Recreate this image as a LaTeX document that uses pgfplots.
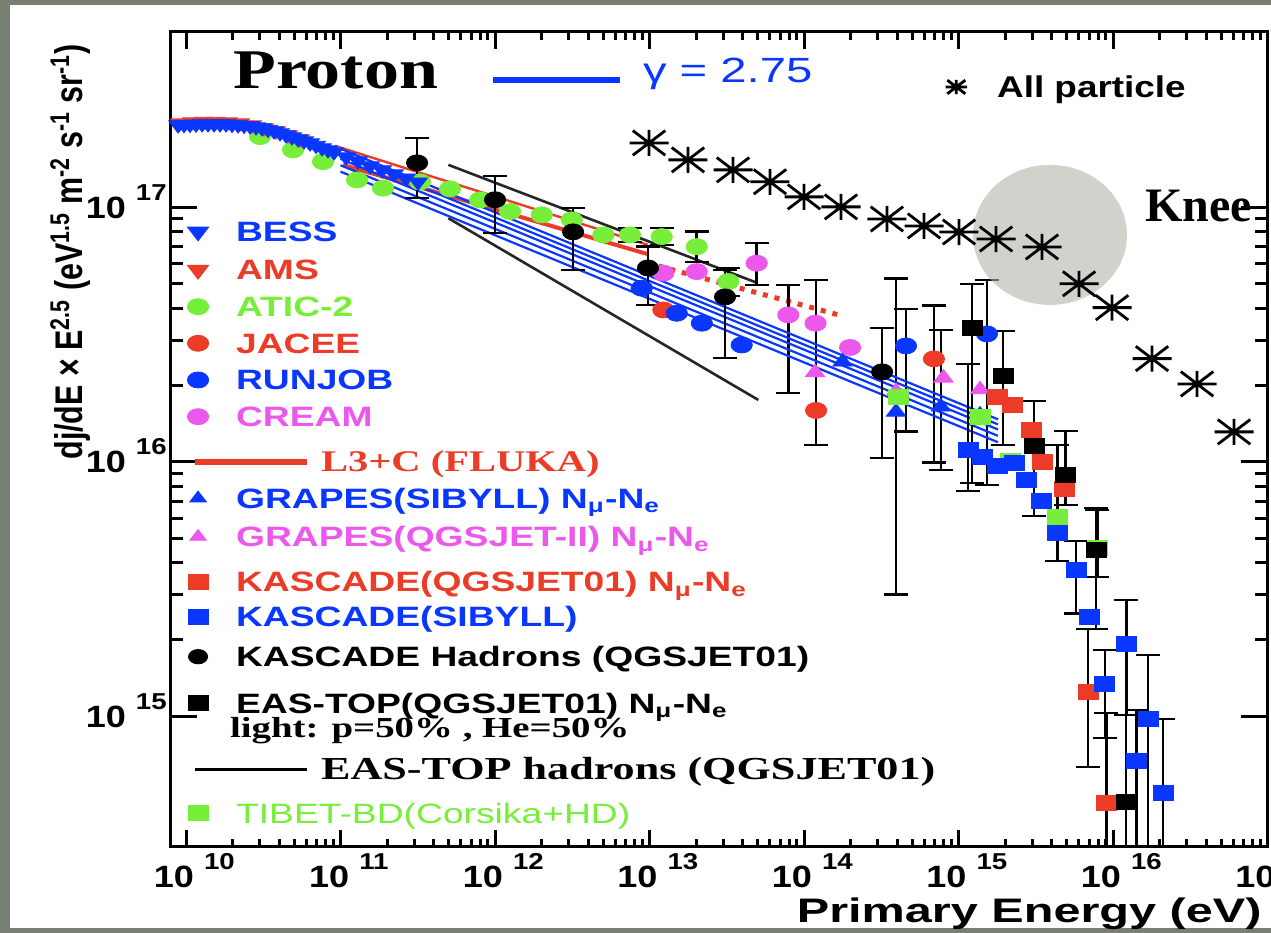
\documentclass[border=0pt]{standalone}
\usepackage{pgfplots}
\pgfplotsset{compat=1.18}
\usepackage{fontspec}
\setmainfont{Liberation Serif}
\setsansfont{Liberation Sans}
\usepackage{graphicx}

\definecolor{cblue}{RGB}{10,55,255}
\definecolor{cred}{RGB}{236,60,40}
\definecolor{cgreen}{RGB}{118,238,58}
\definecolor{cmag}{RGB}{236,88,236}
\definecolor{bggray}{RGB}{122,127,116}
\definecolor{kneegray}{RGB}{176,183,170}

\pgfdeclareplotmark{astar}{%
  \pgfpathmoveto{\pgfqpoint{-1.5\pgfplotmarksize}{0pt}}\pgfpathlineto{\pgfqpoint{1.5\pgfplotmarksize}{0pt}}%
  \pgfpathmoveto{\pgfqpoint{0pt}{-\pgfplotmarksize}}\pgfpathlineto{\pgfqpoint{0pt}{\pgfplotmarksize}}%
  \pgfpathmoveto{\pgfqpoint{-1.25\pgfplotmarksize}{-0.95\pgfplotmarksize}}\pgfpathlineto{\pgfqpoint{1.25\pgfplotmarksize}{0.95\pgfplotmarksize}}%
  \pgfpathmoveto{\pgfqpoint{-1.25\pgfplotmarksize}{0.95\pgfplotmarksize}}\pgfpathlineto{\pgfqpoint{1.25\pgfplotmarksize}{-0.95\pgfplotmarksize}}%
  \pgfusepathqstroke}

\newcommand{\tkl}[1]{\scalebox{1.17}[1]{\fontsize{15.4}{16}\selectfont\sffamily\bfseries 10}\hspace{5pt}\raisebox{9pt}{\scalebox{1.2}[1]{\fontsize{11.5}{12}\selectfont\sffamily\bfseries #1}}}
\newcommand{\lt}[2]{\raisebox{0pt}[11pt][#1]{#2}}
\newcommand{\ls}[2]{\textcolor{#1}{\scalebox{1.33}[1]{\fontsize{14}{16}\selectfont\sffamily\bfseries #2}}}
\newcommand{\lr}[2]{\textcolor{#1}{\scalebox{1.35}[1]{\fontsize{15}{17}\selectfont\rmfamily\bfseries #2}}}
\newcommand{\nmne}{N\textsubscript{μ}-N\textsubscript{e}}

\pgfplotsset{
  mleg/.style={legend image code/.code={\path[draw=none,fill=none] (0pt,-#1) -- (0pt,11pt); \draw[##1] plot coordinates {(0pt,5pt)};}},
  lleg/.style={legend image code/.code={\path[draw=none,fill=none] (0pt,-#1) -- (0pt,11pt); \draw[##1,overlay] (-1.5pt,5pt) -- (54.5pt,5pt);}},
  gleg/.style={legend image code/.code={\draw[##1] (0pt,1.5pt) -- (63.5pt,1.5pt);}},
  sleg/.style={legend image code/.code={\draw[##1] plot coordinates {(0pt,5.5pt)};}},
  ebar/.style={error bars/.cd, y dir=both, y explicit,
     error bar style={line width=1.25pt, black},
     error mark options={black, line width=1.25pt, mark size=6pt, rotate=90}},
  mk/.style={only marks, color=#1, mark options={draw=none, fill=#1, xscale=1.33}},
  down/.style={/tikz/every mark/.append style={rotate=180}},
}

\begin{document}
\begin{tikzpicture}[x=1pt,y=1pt]
\useasboundingbox (0,0) rectangle (635.5,466.5);
\fill[bggray] (0,0) rectangle (635.5,466.5);
\fill[white] (5,2.5) rectangle (635.5,464);

\begin{axis}[
  at={(85pt,43.15pt)}, anchor=south west,
  scale only axis, width=548.75pt, height=407.5pt,
  xmode=log, ymode=log,
  xmin=7.877e9, xmax=1e17, ymin=3.066e14, ymax=4.898e17,
  xtick={1e10,1e11,1e12,1e13,1e14,1e15,1e16,1e17},
  xticklabels={\tkl{10},\tkl{11},\tkl{12},\tkl{13},\tkl{14},\tkl{15},\tkl{16},\tkl{17}},
  ytick={1e15,1e16,1e17},
  yticklabels={\tkl{15},\tkl{16},\tkl{17}},
  axis line style={line width=1.5pt},
  tick style={black, line width=1.5pt},
  major tick length=8.5pt, minor tick length=4pt,
  ytick style={/pgfplots/major tick length=13.5pt,/pgfplots/minor tick length=6.5pt},
  xticklabel style={anchor=north, inner sep=0pt, xshift=4.15pt, yshift=-3.15pt},
  yticklabel style={anchor=base east, inner sep=0pt, xshift=-1.5pt, yshift=-5.5pt},
  xlabel={\scalebox{1.43}[1]{\fontsize{17}{19}\selectfont\sffamily\bfseries Primary Energy (eV)}},
  xlabel style={at={(axis description cs:0.995,-0.0936)}, anchor=base east, inner sep=0pt},
  ylabel={\scalebox{1.05}[1.33]{\fontsize{14.5}{16}\selectfont\sffamily\bfseries dj/dE × E\textsuperscript{2.5} (eV\textsuperscript{1.5} m\textsuperscript{-2} s\textsuperscript{-1} sr\textsuperscript{-1})}},
  ylabel style={at={(axis description cs:-0.0793,0.4745)}, anchor=base west, inner sep=0pt},
  legend style={at={(axis description cs:0.01585,0.7693)}, anchor=north west, draw=none, fill=none,
    inner sep=0pt, outer sep=0pt, row sep=0pt, column sep=13.7pt, cells={anchor=base west}, nodes={inner sep=0pt}},
]

% EAS-TOP hadrons band
\addplot[forget plot, black!85, line width=1.3pt] coordinates {(4.99e11,1.467e17) (4.94e13,5.05e16)};
\addplot[forget plot, black!85, line width=1.3pt] coordinates {(4.99e11,9.05e16) (5.06e13,1.748e16)};

% L3+C (FLUKA)
\addplot[forget plot, cred, line width=1.2pt] coordinates {(9.213e10,1.742e17) (9.78e12,7.11e16)};
\addplot[forget plot, cred, line width=2pt] coordinates {(1.038e11,1.467e17) (9.634e12,6.55e16)};
\addplot[forget plot, cred, line width=2.5pt, dash pattern=on 2.5pt off 3.5pt] coordinates {(9.64e12,6.04e16) (1.788e14,3.732e16)};

% ATIC-2
\addplot[forget plot, mk=cgreen, mark=*, mark size=4pt] table {
3.013e10 1.895e17
4.928e10 1.680e17
7.703e10 1.511e17
1.279e11 1.280e17
1.884e11 1.1877e17
3.270e11 1.2567e17
5.113e11 1.1802e17
7.998e11 1.0683e17
1.2506e12 9.61e16
2.006e12 9.327e16
3.137e12 8.915e16
5.023e12 7.784e16
};
\addplot[forget plot, mk=cgreen, mark=*, mark size=4pt, ebar] table[y error plus index=2, y error minus index=3] {
7.477e12 7.784e16 4.86e15 4.74e15
1.1994e13 7.665e16 6.05e15 5.55e15
2.021e13 7.0e16 1.02e16 9.0e15
3.236e13 5.102e16 6.68e15 6.22e15
};
% AMS
\addplot[forget plot, mk=cred, mark=triangle*, mark size=4.1pt, down] table {
9.147e9 2.145e17
1.0935e10 2.164e17
1.3078e10 2.174e17
1.5639e10 2.174e17
1.8702e10 2.164e17
2.2364e10 2.145e17
2.6745e10 2.107e17
3.198e10 2.050e17
3.824e10 1.995e17
4.573e10 1.924e17
5.469e10 1.855e17
};
% BESS
\addplot[forget plot, mk=cblue, mark=triangle*, mark size=4.1pt, down] table {
8.88e9 2.107e17
9.70e9 2.112e17
1.061e10 2.116e17
1.160e10 2.121e17
1.270e10 2.126e17
1.388e10 2.126e17
1.518e10 2.126e17
1.660e10 2.126e17
1.815e10 2.126e17
1.985e10 2.116e17
2.171e10 2.107e17
2.374e10 2.098e17
2.596e10 2.088e17
2.839e10 2.069e17
3.104e10 2.050e17
3.394e10 2.022e17
3.712e10 1.995e17
4.059e10 1.960e17
4.439e10 1.924e17
4.854e10 1.889e17
5.307e10 1.855e17
5.803e10 1.822e17
6.346e10 1.789e17
6.940e10 1.750e17
7.590e10 1.711e17
8.300e10 1.680e17
9.077e10 1.650e17
1.0854e11 1.577e17
1.298e11 1.521e17
1.552e11 1.454e17
1.856e11 1.402e17
2.220e11 1.352e17
2.655e11 1.302e17
3.175e11 1.256e17
};
% JACEE
\addplot[forget plot, mk=cred, mark=*, mark size=4pt] table {
1.228e13 3.947e16
};
\addplot[forget plot, mk=cred, mark=*, mark size=4pt, ebar] table[y error plus index=2, y error minus index=3] {
1.197e14 1.589e16 3.591e16 4.26e15
6.93e14 2.534e16 1.576e16 1.541e16
};
% RUNJOB
\addplot[forget plot, mk=cblue, mark=*, mark size=4pt] table {
8.90e12 4.805e16
1.50e13 3.83e16
2.18e13 3.50e16
3.95e13 2.875e16
};
\addplot[forget plot, mk=cblue, mark=*, mark size=4pt, ebar] table[y error plus index=2, y error minus index=3] {
4.57e14 2.85e16 1.13e16 1.539e16
1.528e15 3.177e16 2.003e16 2.367e16
};
% CREAM
\addplot[forget plot, mk=cmag, mark=*, mark size=4pt] table {
1.228e13 5.505e16
2.02e13 5.585e16
1.187e14 3.50e16
1.986e14 2.81e16
};
\addplot[forget plot, mk=cmag, mark=*, mark size=4pt, ebar] table[y error plus index=2, y error minus index=3] {
4.94e13 6.026e16 1.214e16 1.076e16
7.91e13 3.773e16 1.177e16 1.91e16
};
% GRAPES (SIBYLL)
\addplot[forget plot, mk=cblue, mark=triangle*, mark size=4.2pt] table {
1.775e14 2.466e16
1.378e15 1.526e16
};
\addplot[forget plot, mk=cblue, mark=triangle*, mark size=4.2pt, ebar] table[y error plus index=2, y error minus index=3] {
3.941e14 1.568e16 3.672e16 1.267e16
7.70e14 1.641e16 1.653e16 7.13e15
};
% GRAPES (QGSJET-II)
\addplot[forget plot, mk=cmag, mark=triangle*, mark size=4.2pt] table {
1.178e14 2.242e16
3.941e14 1.887e16
7.99e14 2.133e16
1.378e15 1.919e16
};

% gamma = 2.75 lines
\addplot[forget plot, cblue, line width=1.1pt] coordinates {(1e11,1.698e17) (1.8e15,1.4666e16)};
\addplot[forget plot, cblue, line width=1.1pt] coordinates {(1e11,1.622e17) (1.8e15,1.4005e16)};
\addplot[forget plot, cblue, line width=1.1pt] coordinates {(1e11,1.549e17) (1.8e15,1.3375e16)};
\addplot[forget plot, cblue, line width=1.1pt] coordinates {(1e11,1.462e17) (1.8e15,1.2626e16)};
\addplot[forget plot, cblue, line width=1.1pt] coordinates {(1e11,1.380e17) (1.8e15,1.1918e16)};

% TIBET-BD
\addplot[forget plot, mk=cgreen, mark=square*, mark size=3.75pt] table {
4.108e14 1.791e16
1.385e15 1.505e16
2.166e15 1.011e16
};
\addplot[forget plot, mk=cgreen, mark=square*, mark size=3.75pt, ebar] table[y error plus index=2, y error minus index=3] {
4.362e15 6.06e15 5.57e15 1.99e15
7.92e15 4.56e15 1.9e15 1.04e15
};
% KASCADE (QGSJET01)
\addplot[forget plot, mk=cred, mark=square*, mark size=3.75pt] table {
1.788e15 1.791e16
2.24e15 1.671e16
2.946e15 1.332e16
3.508e15 9.94e15
4.855e15 7.80e15
};
\addplot[forget plot, mk=cred, mark=square*, mark size=3.75pt, ebar] table[y error plus index=2, y error minus index=3] {
6.89e15 1.241e15 9.59e14 6.10e14
9.05e15 4.55e14 5.71e14 2.55e14
};
% KASCADE (SIBYLL)
\addplot[forget plot, mk=cblue, mark=square*, mark size=3.75pt] table {
1.430e15 1.046e16
1.788e15 9.60e15
2.297e15 9.84e15
2.735e15 8.50e15
3.420e15 7.03e15
4.391e15 5.24e15
7.056e15 2.443e15
};
\addplot[forget plot, mk=cblue, mark=square*, mark size=3.75pt, ebar] table[y error plus index=2, y error minus index=3] {
1.152e15 1.111e16 1.309e16 3.44e15
5.78e15 3.77e15 1.11e15 1.24e15
8.84e15 1.332e15 4.87e14 5.12e14
1.222e16 1.917e15 9.43e14 9.07e14
1.419e16 6.67e14 3.9e14 4.67e14
1.690e16 9.76e14 7.65e14 7.76e14
2.113e16 4.97e14 4.77e14 2.97e14
};
% KASCADE hadrons
\addplot[forget plot, mk=black, mark=*, mark size=4pt, ebar] table[y error plus index=2, y error minus index=3] {
3.13e11 1.494e17 3.78e16 4.06e16
1.0e12 1.070e17 2.57e16 2.77e16
3.20e12 8.0e16 1.94e16 2.33e16
9.77e12 5.77e16 1.23e16 1.64e16
3.08e13 4.44e16 1.23e16 1.884e16
3.2e14 2.253e16 1.097e16 1.219e16
};
% EAS-TOP (QGSJET01)
\addplot[forget plot, mk=black, mark=square*, mark size=3.75pt, ebar] table[y error plus index=2, y error minus index=3] {
1.222e15 3.363e16 1.633e16 2.538e16
1.941e15 2.171e16 1.093e16 1.008e16
3.08e15 1.153e16 5.79e15 5.41e15
4.93e15 8.87e15 4.33e15 2.11e15
7.76e15 4.50e15 2.08e15 2.30e15
1.213e16 4.60e14 2.40e15 2.6e14
};

% All particle
\addplot[forget plot, only marks, mark=astar, mark size=6.5pt, black, line width=1.4pt] table {
9.93e12 1.789e17
1.774e13 1.535e17
3.47e13 1.402e17
6.02e13 1.259e17
1.0e14 1.098e17
1.735e14 1.003e17
3.44e14 8.99e16
5.98e14 8.44e16
1.007e15 7.99e16
1.75e15 7.50e16
3.47e15 6.98e16
6.03e15 5.00e16
9.86e15 4.03e16
1.788e16 2.54e16
3.50e16 2.02e16
6.07e16 1.309e16
};

% knee region
\fill[kneegray, opacity=0.6] (axis cs:3.91e15,7.784e16) ellipse [x radius=38.5pt, y radius=35pt];

% legend
\addlegendimage{cblue, only marks, mark=triangle*, mark size=4.6pt, mark options={rotate=180, xscale=1.33, fill=cblue, draw=cblue}, mleg=8.15pt}
\addlegendentry{\lt{8.15pt}{\ls{cblue}{BESS}}}
\addlegendimage{cred, only marks, mark=triangle*, mark size=4.6pt, mark options={rotate=180, xscale=1.33, fill=cred, draw=cred}, mleg=7.35pt}
\addlegendentry{\lt{7.35pt}{\ls{cred}{AMS}}}
\addlegendimage{cgreen, only marks, mark=*, mark size=4pt, mark options={xscale=1.33, fill=cgreen, draw=cgreen}, mleg=7.3pt}
\addlegendentry{\lt{7.3pt}{\ls{cgreen}{ATIC-2}}}
\addlegendimage{cred, only marks, mark=*, mark size=4pt, mark options={xscale=1.33, fill=cred, draw=cred}, mleg=7.35pt}
\addlegendentry{\lt{7.35pt}{\ls{cred}{JACEE}}}
\addlegendimage{cblue, only marks, mark=*, mark size=4pt, mark options={xscale=1.33, fill=cblue, draw=cblue}, mleg=7.35pt}
\addlegendentry{\lt{7.35pt}{\ls{cblue}{RUNJOB}}}
\addlegendimage{cmag, only marks, mark=*, mark size=4pt, mark options={xscale=1.33, fill=cmag, draw=cmag}, mleg=11.5pt}
\addlegendentry{\lt{11.5pt}{\ls{cmag}{CREAM}}}
\addlegendimage{cred, line width=3pt, lleg=7.3pt}
\addlegendentry{\lt{7.3pt}{\hspace*{42.5pt}\lr{cred}{L3+C (FLUKA)}}}
\addlegendimage{cblue, only marks, mark=triangle*, mark size=3.6pt, mark options={xscale=1.33, fill=cblue, draw=cblue}, mleg=8.2pt}
\addlegendentry{\lt{8.2pt}{\ls{cblue}{GRAPES(SIBYLL) \nmne}}}
\addlegendimage{cmag, only marks, mark=triangle*, mark size=3.6pt, mark options={xscale=1.33, fill=cmag, draw=cmag}, mleg=11.5pt}
\addlegendentry{\lt{11.5pt}{\ls{cmag}{GRAPES(QGSJET-II) \nmne}}}
\addlegendimage{cred, only marks, mark=square*, mark size=3.75pt, mark options={xscale=1.33, fill=cred, draw=cred}, mleg=6.5pt}
\addlegendentry{\lt{6.5pt}{\ls{cred}{KASCADE(QGSJET01) \nmne}}}
\addlegendimage{cblue, only marks, mark=square*, mark size=3.75pt, mark options={xscale=1.33, fill=cblue, draw=cblue}, mleg=9pt}
\addlegendentry{\lt{9pt}{\ls{cblue}{KASCADE(SIBYLL)}}}
\addlegendimage{black, only marks, mark=*, mark size=3.6pt, mark options={xscale=1.33, fill=black, draw=black}, mleg=12.3pt}
\addlegendentry{\lt{12.3pt}{\ls{black}{KASCADE Hadrons (QGSJET01)}}}
\addlegendimage{black, only marks, mark=square*, mark size=3.75pt, mark options={xscale=1.33, fill=black, draw=black}, mleg=22.35pt}
\addlegendentry{\lt{22.35pt}{\makebox[0pt][l]{\raisebox{-12.35pt}{\hspace*{-3pt}\scalebox{1.34}[1]{\fontsize{14.5}{16}\selectfont\rmfamily\bfseries light: p=50\% , He=50\%}}}\ls{black}{EAS-TOP(QGSJET01) \nmne}}}
\addlegendimage{black, line width=1.5pt, lleg=10.65pt}
\addlegendentry{\lt{10.65pt}{\hspace*{42.5pt}\scalebox{1.38}[1]{\fontsize{16}{18}\selectfont\rmfamily\bfseries EAS-TOP hadrons (QGSJET01)}}}
\addlegendimage{cgreen, only marks, mark=square*, mark size=3.75pt, mark options={xscale=1.33, fill=cgreen, draw=cgreen}, mleg=3pt}
\addlegendentry{\lt{3pt}{\textcolor{cgreen}{\scalebox{1.33}[1]{\fontsize{14}{16}\selectfont\sffamily TIBET-BD(Corsika+HD)}}}}
\end{axis}

% gamma legend
\begin{axis}[
  at={(85pt,43.15pt)}, anchor=south west,
  scale only axis, width=548.75pt, height=407.5pt, hide axis,
  xmin=0, xmax=1, ymin=0, ymax=1,
  legend columns=2,
  legend style={at={(axis description cs:0.2916,0.9665)}, anchor=north west, draw=none, fill=none,
    inner sep=0pt, outer sep=0pt, column sep=10pt, cells={anchor=base west}, nodes={inner sep=0pt}},
]
\addlegendimage{cblue, line width=3pt, gleg}
\addlegendentry{\raisebox{0pt}[12pt][3pt]{\textcolor{cblue}{\scalebox{1.35}[1]{\fontsize{17.5}{20}\selectfont\sffamily γ = 2.75}}}}
\end{axis}

% all particle legend
\begin{axis}[
  at={(85pt,43.15pt)}, anchor=south west,
  scale only axis, width=548.75pt, height=407.5pt, hide axis,
  xmin=0, xmax=1, ymin=0, ymax=1,
  legend columns=2,
  legend style={at={(axis description cs:0.7066,0.9481)}, anchor=north west, draw=none, fill=none,
    inner sep=0pt, outer sep=0pt, column sep=15pt, cells={anchor=base west}, nodes={inner sep=0pt}},
]
\addlegendimage{only marks, mark=astar, mark size=3.6pt, black, line width=1.4pt, sleg}
\addlegendentry{\raisebox{0pt}[12pt][3pt]{\scalebox{1.23}[1]{\fontsize{15}{17}\selectfont\sffamily\bfseries All particle}}}
\end{axis}

\node[anchor=base west, inner sep=0pt] at (116.5,422.35) {\scalebox{1.25}[1]{\fontsize{28}{30}\selectfont\rmfamily\bfseries Proton}};
\node[anchor=base west, inner sep=0pt] at (572.5,355.5) {\fontsize{24}{26}\selectfont\rmfamily\bfseries Knee};
\end{tikzpicture}
\end{document}
